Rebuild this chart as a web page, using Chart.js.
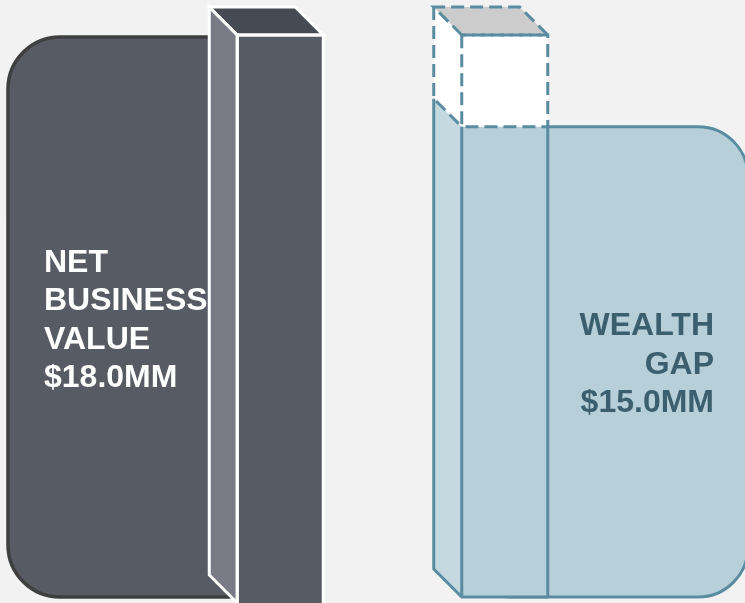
<!DOCTYPE html>
<html>
<head>
<meta charset="utf-8">
<script src="https://cdn.jsdelivr.net/npm/chart.js@4.4.1/dist/chart.umd.min.js"></script>
<style>
    html, body { margin: 0; padding: 0; background: #f2f2f2; }
    #wrap { width: 745px; height: 603px; }
</style>
</head>
<body>
<div id="wrap"><canvas id="grafico" width="745" height="603"></canvas></div>
<script>
// Datos del gráfico
const categorias = ['NET BUSINESS VALUE', 'WEALTH GAP'];
const valores = [18.0, 15.0];
const restante = [0, 3.0]; // hueco hasta el valor del negocio (caja punteada)
const etiquetas = [
    ['NET', 'BUSINESS', 'VALUE', '$18.0MM'],
    ['WEALTH', 'GAP', '$15.0MM']
];

const PROF = 28; // profundidad del efecto 3D
const FUENTE = 'bold 32px "Liberation Sans", Arial, sans-serif';

function rectRedondeado(ctx, x, y, w, h, r) {
    ctx.beginPath();
    ctx.moveTo(x + r, y);
    ctx.lineTo(x + w - r, y);
    ctx.arcTo(x + w, y, x + w, y + r, r);
    ctx.lineTo(x + w, y + h - r);
    ctx.arcTo(x + w, y + h, x + w - r, y + h, r);
    ctx.lineTo(x + r, y + h);
    ctx.arcTo(x, y + h, x, y + h - r, r);
    ctx.lineTo(x, y + r);
    ctx.arcTo(x, y, x + r, y, r);
    ctx.closePath();
}

function poligono(ctx, pts) {
    ctx.beginPath();
    ctx.moveTo(pts[0][0], pts[0][1]);
    for (let i = 1; i < pts.length; i++) ctx.lineTo(pts[i][0], pts[i][1]);
    ctx.closePath();
}

// Paneles redondeados detrás de las barras
const paneles = {
    id: 'paneles',
    beforeDatasetsDraw(chart) {
        const ctx = chart.ctx;
        const y = chart.scales.y;
        const base = y.getPixelForValue(0);
        const b0 = chart.getDatasetMeta(0).data[0];
        const b1 = chart.getDatasetMeta(0).data[1];
        ctx.save();

        // panel izquierdo
        const top0 = y.getPixelForValue(valores[0]) + 2;
        rectRedondeado(ctx, 8, top0, b0.x - 8, base - top0, 52);
        ctx.fillStyle = '#575b63';
        ctx.fill();
        ctx.lineWidth = 3.5;
        ctx.strokeStyle = '#3f3f3f';
        ctx.stroke();

        // panel derecho
        const x1 = b1.x - b1.width / 2;
        const top1 = y.getPixelForValue(valores[1]) - 2;
        rectRedondeado(ctx, x1, top1, 748 - x1, base - top1, 50);
        ctx.fillStyle = '#b7cfd9';
        ctx.fill();
        ctx.lineWidth = 3;
        ctx.strokeStyle = '#5a8ca1';
        ctx.stroke();

        // textos
        ctx.font = FUENTE;
        ctx.textBaseline = 'alphabetic';
        ctx.fillStyle = '#ffffff';
        ctx.textAlign = 'left';
        etiquetas[0].forEach((t, i) => ctx.fillText(t, 44, 272 + i * 38.4));
        ctx.fillStyle = '#3b5f6e';
        ctx.textAlign = 'right';
        etiquetas[1].forEach((t, i) => ctx.fillText(t, 714, 335 + i * 38.5));
        ctx.restore();
    }
};

// Caras laterales, superiores y contornos
const cubos = {
    id: 'cubos',
    afterDatasetsDraw(chart) {
        const ctx = chart.ctx;
        const y = chart.scales.y;
        const base = y.getPixelForValue(0);
        ctx.save();
        ctx.lineJoin = 'miter';

        // barra izquierda
        const a = chart.getDatasetMeta(0).data[0];
        const ax1 = a.x - a.width / 2, ax2 = a.x + a.width / 2;
        const aTop = a.y, aBot = base + 6;
        const ladoA = [[ax1, aTop], [ax1 - PROF, aTop - PROF], [ax1 - PROF, aBot - PROF], [ax1, aBot]];
        const techoA = [[ax1, aTop], [ax1 - PROF, aTop - PROF], [ax2 - PROF, aTop - PROF], [ax2, aTop]];
        ctx.fillStyle = '#575b63';
        ctx.fillRect(ax1, base - 1, ax2 - ax1, 8);
        poligono(ctx, ladoA); ctx.fillStyle = '#797c85'; ctx.fill();
        poligono(ctx, techoA); ctx.fillStyle = '#464a52'; ctx.fill();
        ctx.strokeStyle = '#ffffff';
        ctx.lineWidth = 3;
        poligono(ctx, ladoA); ctx.stroke();
        poligono(ctx, techoA); ctx.stroke();
        ctx.strokeRect(ax1, aTop, ax2 - ax1, aBot - aTop + 4);

        // barra derecha
        const b = chart.getDatasetMeta(0).data[1];
        const bx1 = b.x - b.width / 2, bx2 = b.x + b.width / 2;
        const y15 = b.y - 2;
        const y18 = chart.getDatasetMeta(1).data[1].y;
        const azul = '#5a8ca1';
        const ladoB = [[bx1, y15], [bx1 - PROF, y15 - PROF], [bx1 - PROF, base - PROF], [bx1, base]];
        const ladoHueco = [[bx1, y18], [bx1 - PROF, y18 - PROF], [bx1 - PROF, y15 - PROF], [bx1, y15]];
        const techoB = [[bx1, y18], [bx1 - PROF, y18 - PROF], [bx2 - PROF, y18 - PROF], [bx2, y18]];
        ctx.fillStyle = '#b7cfd9';
        ctx.fillRect(bx1, y15, bx2 - bx1, 3);
        poligono(ctx, ladoB); ctx.fillStyle = '#c5d9e1'; ctx.fill();
        poligono(ctx, ladoHueco); ctx.fillStyle = '#ffffff'; ctx.fill();
        poligono(ctx, techoB); ctx.fillStyle = '#cccccc'; ctx.fill();

        ctx.strokeStyle = azul;
        ctx.lineWidth = 3;
        // contornos sólidos
        ctx.beginPath();
        ctx.moveTo(bx1 - PROF, y15 - PROF);
        ctx.lineTo(bx1 - PROF, base - PROF);
        ctx.lineTo(bx1, base);
        ctx.lineTo(bx2, base);
        ctx.moveTo(bx1, y15); ctx.lineTo(bx1, base);
        ctx.moveTo(bx2, y15); ctx.lineTo(bx2, base);
        ctx.stroke();
        // contornos punteados
        ctx.setLineDash([13, 6]);
        poligono(ctx, techoB); ctx.stroke();
        ctx.beginPath();
        ctx.moveTo(bx1 - PROF, y18 - PROF);
        ctx.lineTo(bx1 - PROF, y15 - PROF);
        ctx.lineTo(bx1, y15);
        ctx.stroke();
        ctx.strokeRect(bx1, y18, bx2 - bx1, y15 - y18);
        ctx.restore();
    }
};

new Chart(document.getElementById('grafico'), {
    type: 'bar',
    data: {
        labels: categorias,
        datasets: [{
            label: 'Valor',
            data: valores,
            backgroundColor: ['#575b63', '#b7cfd9'],
            borderWidth: 0,
            stack: 's'
        }, {
            label: 'Restante',
            data: restante,
            backgroundColor: '#ffffff',
            borderWidth: 0,
            stack: 's'
        }]
    },
    options: {
        responsive: false,
        animation: false,
        devicePixelRatio: 1,
        layout: { padding: { left: 168, right: 128, top: 35, bottom: 6 } },
        datasets: { bar: { categoryPercentage: 1, barPercentage: 86 / 224.5 } },
        plugins: { legend: { display: false }, tooltip: { enabled: false } },
        scales: {
            x: { display: false, stacked: true },
            y: { display: false, stacked: true, min: 0, max: 18 }
        }
    },
    plugins: [paneles, cubos]
});
</script>
</body>
</html>
